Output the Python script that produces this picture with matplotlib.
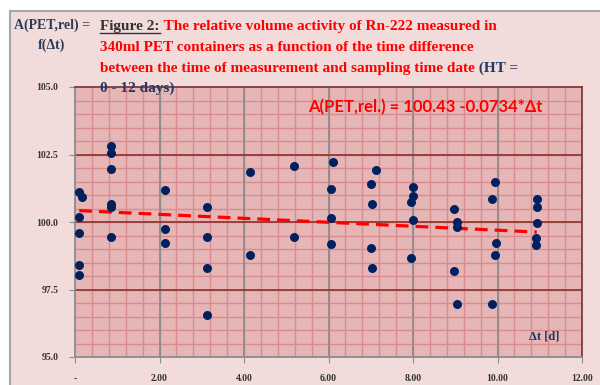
import numpy as np
import matplotlib
matplotlib.use("Agg")
from matplotlib import pyplot as plt
from matplotlib.patches import Rectangle
from matplotlib.lines import Line2D

# measured points: time difference [d] vs relative activity
dt = [0.10, 0.16, 0.10, 0.10, 0.10, 0.10,
      0.85, 0.85, 0.85, 0.85, 0.85, 0.85,
      2.13, 2.13, 2.13,
      3.12, 3.12, 3.12, 3.12,
      4.14, 4.14,
      5.19, 5.19,
      6.11, 6.06, 6.06, 6.06,
      7.12, 7.01, 7.03, 7.01, 7.03,
      8.01, 8.01, 7.95, 8.01, 7.95,
      8.98, 9.03, 9.05, 8.98, 9.05,
      9.94, 9.88, 9.97, 9.94, 9.88,
      10.93, 10.93, 10.93, 10.90, 10.90]
a_rel = [101.11, 100.93, 100.17, 99.60, 98.41, 98.03,
         102.82, 102.56, 101.97, 100.66, 100.54, 99.45,
         101.17, 99.75, 99.23,
         100.56, 99.45, 98.28, 96.55,
         101.85, 98.77,
         102.06, 99.45,
         102.21, 101.23, 100.13, 99.17,
         101.91, 101.39, 100.65, 99.02, 98.28,
         101.30, 100.96, 100.73, 100.07, 98.65,
         100.49, 99.99, 99.82, 98.19, 96.95,
         101.47, 100.86, 99.23, 98.77, 96.98,
         100.87, 100.56, 99.97, 99.39, 99.14]

intercept = 100.43
slope = -0.0734

x_ticks = [0, 2, 4, 6, 8, 10, 12]
x_ticklabels = ["-", "2.00", "4.00", "6.00", "8.00", "10.00", "12.00"]
y_ticks = [95.0, 97.5, 100.0, 102.5, 105.0]

NAVY = "#1F3864"
RED = "#FF0000"
SERIF = "Liberation Serif"

fig = plt.figure(figsize=(6, 3.85), dpi=100, facecolor="white")
fig.add_artist(Rectangle((10/600, -0.02), 1.0, 1 - 11/385 + 0.02,
                         transform=fig.transFigure, facecolor="#F2DCDB",
                         edgecolor="#A6A6A6", linewidth=1.5, zorder=0))

ax = fig.add_axes([75/600, 1 - 357/385, 507/600, 270/385])
ax.set_facecolor("#E6B6B6")
ax.set_xlim(0, 12)
ax.set_ylim(95, 105)

# minor grid
for v in np.arange(0.4, 12, 0.4):
    ax.axvline(v, color="#D98C8E", lw=1.0, zorder=1)
for v in np.arange(95.5, 105, 0.5):
    ax.axhline(v, color="#D98C8E", lw=1.0, zorder=1)
# major grid
for v in x_ticks[1:-1]:
    ax.axvline(v, color="#8C8C8C", lw=1.3, zorder=2)
for v in y_ticks[1:-1]:
    ax.axhline(v, color="#953735", lw=1.3, zorder=2)

ax.scatter(dt, a_rel, s=42, color="#002060", zorder=4, linewidths=0)

xs = np.array([min(dt), max(dt)])
ax.plot(xs, intercept + slope * xs, color=RED, lw=2.3, ls=(0, (4, 2.2)), zorder=3)

ax.set_xticks(x_ticks)
ax.set_xticklabels(x_ticklabels)
ax.set_yticks(y_ticks)
ax.set_yticklabels(["%.1f" % v for v in y_ticks])
ax.tick_params(axis="both", length=4, color="#8C8C8C", labelsize=7, labelcolor="#333333")
ax.tick_params(axis="x", pad=8)
ax.tick_params(axis="y", pad=8)
for lab in ax.get_xticklabels() + ax.get_yticklabels():
    lab.set_fontfamily(SERIF)
    lab.set_fontweight("bold")

for s in ["left", "bottom"]:
    ax.spines[s].set_color("#8C8C8C")
    ax.spines[s].set_linewidth(1.3)
for s in ["top", "right"]:
    ax.spines[s].set_color("#7F3A3A")
    ax.spines[s].set_linewidth(1.3)

ax.text(0.460, 0.925, "A(PET,rel.) = %.2f %.4f*\u0394t" % (intercept, slope),
        transform=ax.transAxes, color=RED, fontsize=12, fontweight="bold",
        family="Lato", va="center", ha="left", zorder=5)
ax.text(0.955, 0.075, "\u0394t [d]", transform=ax.transAxes, color=NAVY,
        fontsize=9, fontweight="bold", family=SERIF, ha="right", va="center", zorder=5)

# header
fig.text(52/600, 1 - 25/385, "A(PET,rel) =", ha="center", va="center", color="#2E3B55",
         fontsize=10, fontweight="bold", family=SERIF)
fig.text(52/600, 1 - 45/385, "f(\u0394t)", ha="center", va="center", color="#2E3B55",
         fontsize=10, fontweight="bold", family=SERIF)

tkw = dict(fontsize=11, fontweight="bold", family=SERIF, va="baseline")
x0 = 100/600
lines_y = [1 - 30/385, 1 - 51/385, 1 - 72/385, 1 - 92/385]
t1 = fig.text(x0, lines_y[0], "Figure 2:", color="#333333", **tkw)
ax.annotate(" The relative volume activity of Rn-222 measured in", xy=(1, 0),
            xycoords=t1, color=RED, annotation_clip=False,
            **dict(tkw, va="bottom"))
fig.text(x0, lines_y[1], "340ml PET containers as a function of the time difference",
         color=RED, **tkw)
t3 = fig.text(x0, lines_y[2], "between the time of measurement and sampling time date",
              color=RED, **tkw)
ax.annotate(" (HT =", xy=(1, 0), xycoords=t3, color=NAVY, annotation_clip=False,
            **dict(tkw, va="bottom"))
fig.text(x0, lines_y[3], "0 - 12 days)", color=NAVY, **tkw)

# underline "Figure 2:"
fig.canvas.draw()
bb = t1.get_window_extent().transformed(fig.transFigure.inverted())
uy = lines_y[0] - 2.5/385
fig.add_artist(Line2D([bb.x0, bb.x1], [uy, uy], transform=fig.transFigure,
                      color="#333333", lw=1.0))

fig.savefig("out.png", dpi=100, facecolor="white")
